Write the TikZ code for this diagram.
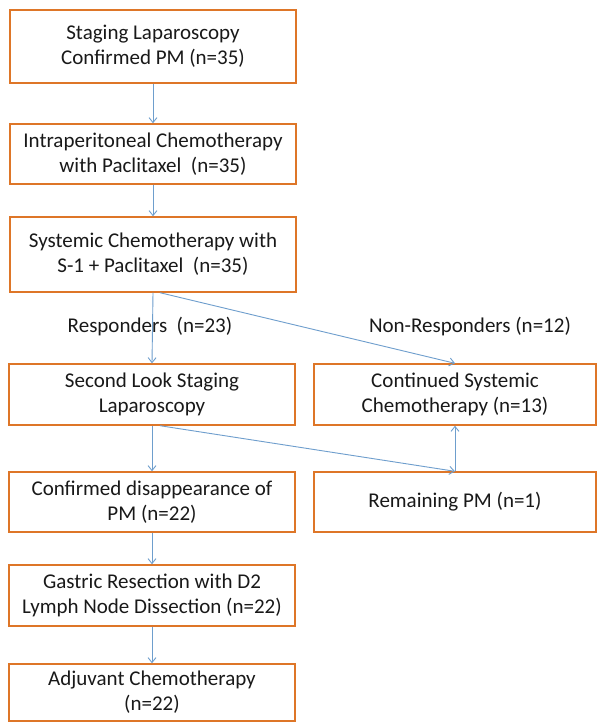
\documentclass[tikz,border=0pt]{standalone}
\usepackage{fontspec}
\setmainfont{Carlito}
\usetikzlibrary{arrows.meta}
\definecolor{boxor}{RGB}{222,118,40}
\definecolor{arrbl}{RGB}{110,158,205}
\definecolor{txt}{RGB}{25,25,25}
\begin{document}
\begin{tikzpicture}[x=1pt,y=-1pt,
  fbox/.style={draw=boxor,line width=1.4pt,text=txt,align=center,inner sep=0pt,
    font=\fontsize{21}{25}\selectfont},
  flow/.style={draw=arrbl,line width=0.9pt,-{Straight Barb[length=5pt,width=8pt,line width=0.9pt]}},
  lbl/.style={text=txt,font=\fontsize{21}{25}\selectfont,inner sep=0pt}]
\useasboundingbox (0,0) rectangle (598,723);
\fill[white] (0,0) rectangle (598,723);
% boxes
\node[fbox,minimum width=286pt,minimum height=73pt] (b1) at (153,46.5) {Staging Laparoscopy\\Confirmed PM (n=35)};
\node[fbox,minimum width=286pt,minimum height=60pt] (b2) at (153,154) {Intraperitoneal Chemotherapy\\with Paclitaxel\ \ (n=35)};
\node[fbox,minimum width=286pt,minimum height=75pt] (b3) at (153,254.5) {Systemic Chemotherapy with\\S-1 + Paclitaxel\ \ (n=35)};
\node[fbox,minimum width=286pt,minimum height=61pt] (b4) at (152,394.5) {Second Look Staging\\Laparoscopy};
\node[fbox,minimum width=282pt,minimum height=61pt] (b5) at (455,394.5) {Continued Systemic\\Chemotherapy (n=13)};
\node[fbox,minimum width=286pt,minimum height=60pt] (b6) at (152,502) {Confirmed disappearance of\\PM (n=22)};
\node[fbox,minimum width=282pt,minimum height=60pt] (b7) at (455,502) {Remaining PM (n=1)};
\node[fbox,minimum width=286pt,minimum height=61pt] (b8) at (152,595.5) {Gastric Resection with D2\\Lymph Node Dissection (n=22)};
\node[fbox,minimum width=286pt,minimum height=57pt] (b9) at (152,692.5) {Adjuvant Chemotherapy\\(n=22)};
% labels
\node[lbl] (l1) at (150,327) {Responders\ \ (n=23)};
\node[lbl] (l2) at (470,327) {Non-Responders (n=12)};
% connectors
\draw[flow] (b1.south) -- (b2.north);
\draw[flow] (b2.south) -- (b3.north);
\draw[flow] (b3.south) -- (b4.north);
\draw[flow] ([xshift=7pt]b3.south) -- (b5.north);
\draw[flow] (b4.south) -- (b6.north);
\draw[flow] ([xshift=8pt]b4.south) -- (b7.north);
\draw[flow] (b7.north) -- (b5.south);
\draw[flow] (b6.south) -- (b8.north);
\draw[flow] (b8.south) -- (b9.north);
\end{tikzpicture}
\end{document}
